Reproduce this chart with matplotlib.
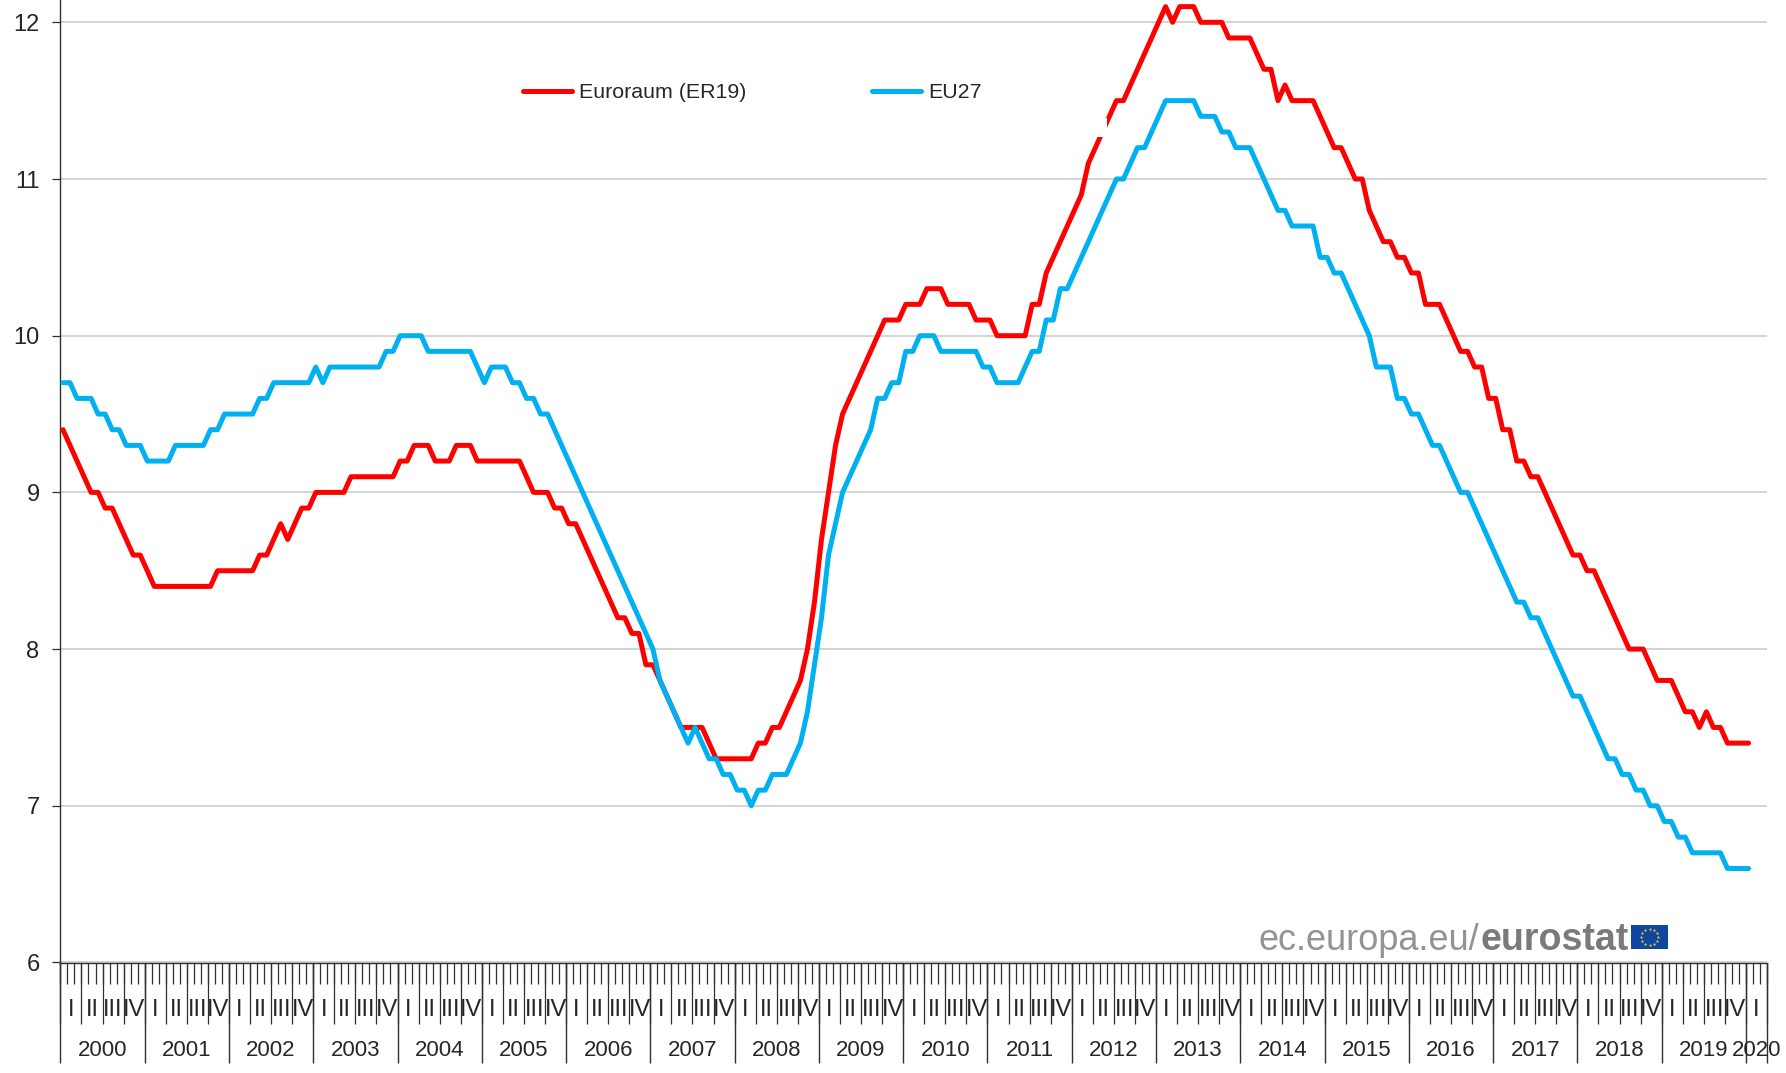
import numpy as np
import matplotlib
matplotlib.use("Agg")
import matplotlib.pyplot as plt
from matplotlib.patches import Rectangle

plt.rcParams["font.family"] = ["Liberation Sans", "DejaVu Sans"]

# monthly values, Jan 2000 - Jan 2020
euro_area = [
    9.4, 9.3, 9.2, 9.1, 9.0, 9.0, 8.9, 8.9, 8.8, 8.7, 8.6, 8.6,
    8.5, 8.4, 8.4, 8.4, 8.4, 8.4, 8.4, 8.4, 8.4, 8.4, 8.5, 8.5,
    8.5, 8.5, 8.5, 8.5, 8.6, 8.6, 8.7, 8.8, 8.7, 8.8, 8.9, 8.9,
    9.0, 9.0, 9.0, 9.0, 9.0, 9.1, 9.1, 9.1, 9.1, 9.1, 9.1, 9.1,
    9.2, 9.2, 9.3, 9.3, 9.3, 9.2, 9.2, 9.2, 9.3, 9.3, 9.3, 9.2,
    9.2, 9.2, 9.2, 9.2, 9.2, 9.2, 9.1, 9.0, 9.0, 9.0, 8.9, 8.9,
    8.8, 8.8, 8.7, 8.6, 8.5, 8.4, 8.3, 8.2, 8.2, 8.1, 8.1, 7.9,
    7.9, 7.8, 7.7, 7.6, 7.5, 7.5, 7.5, 7.5, 7.4, 7.3, 7.3, 7.3,
    7.3, 7.3, 7.3, 7.4, 7.4, 7.5, 7.5, 7.6, 7.7, 7.8, 8.0, 8.3,
    8.7, 9.0, 9.3, 9.5, 9.6, 9.7, 9.8, 9.9, 10.0, 10.1, 10.1, 10.1,
    10.2, 10.2, 10.2, 10.3, 10.3, 10.3, 10.2, 10.2, 10.2, 10.2, 10.1, 10.1,
    10.1, 10.0, 10.0, 10.0, 10.0, 10.0, 10.2, 10.2, 10.4, 10.5, 10.6, 10.7,
    10.8, 10.9, 11.1, 11.2, 11.3, 11.4, 11.5, 11.5, 11.6, 11.7, 11.8, 11.9,
    12.0, 12.1, 12.0, 12.1, 12.1, 12.1, 12.0, 12.0, 12.0, 12.0, 11.9, 11.9,
    11.9, 11.9, 11.8, 11.7, 11.7, 11.5, 11.6, 11.5, 11.5, 11.5, 11.5, 11.4,
    11.3, 11.2, 11.2, 11.1, 11.0, 11.0, 10.8, 10.7, 10.6, 10.6, 10.5, 10.5,
    10.4, 10.4, 10.2, 10.2, 10.2, 10.1, 10.0, 9.9, 9.9, 9.8, 9.8, 9.6,
    9.6, 9.4, 9.4, 9.2, 9.2, 9.1, 9.1, 9.0, 8.9, 8.8, 8.7, 8.6,
    8.6, 8.5, 8.5, 8.4, 8.3, 8.2, 8.1, 8.0, 8.0, 8.0, 7.9, 7.8,
    7.8, 7.8, 7.7, 7.6, 7.6, 7.5, 7.6, 7.5, 7.5, 7.4, 7.4, 7.4,
    7.4,
]
eu27 = [
    9.7, 9.7, 9.6, 9.6, 9.6, 9.5, 9.5, 9.4, 9.4, 9.3, 9.3, 9.3,
    9.2, 9.2, 9.2, 9.2, 9.3, 9.3, 9.3, 9.3, 9.3, 9.4, 9.4, 9.5,
    9.5, 9.5, 9.5, 9.5, 9.6, 9.6, 9.7, 9.7, 9.7, 9.7, 9.7, 9.7,
    9.8, 9.7, 9.8, 9.8, 9.8, 9.8, 9.8, 9.8, 9.8, 9.8, 9.9, 9.9,
    10.0, 10.0, 10.0, 10.0, 9.9, 9.9, 9.9, 9.9, 9.9, 9.9, 9.9, 9.8,
    9.7, 9.8, 9.8, 9.8, 9.7, 9.7, 9.6, 9.6, 9.5, 9.5, 9.4, 9.3,
    9.2, 9.1, 9.0, 8.9, 8.8, 8.7, 8.6, 8.5, 8.4, 8.3, 8.2, 8.1,
    8.0, 7.8, 7.7, 7.6, 7.5, 7.4, 7.5, 7.4, 7.3, 7.3, 7.2, 7.2,
    7.1, 7.1, 7.0, 7.1, 7.1, 7.2, 7.2, 7.2, 7.3, 7.4, 7.6, 7.9,
    8.2, 8.6, 8.8, 9.0, 9.1, 9.2, 9.3, 9.4, 9.6, 9.6, 9.7, 9.7,
    9.9, 9.9, 10.0, 10.0, 10.0, 9.9, 9.9, 9.9, 9.9, 9.9, 9.9, 9.8,
    9.8, 9.7, 9.7, 9.7, 9.7, 9.8, 9.9, 9.9, 10.1, 10.1, 10.3, 10.3,
    10.4, 10.5, 10.6, 10.7, 10.8, 10.9, 11.0, 11.0, 11.1, 11.2, 11.2, 11.3,
    11.4, 11.5, 11.5, 11.5, 11.5, 11.5, 11.4, 11.4, 11.4, 11.3, 11.3, 11.2,
    11.2, 11.2, 11.1, 11.0, 10.9, 10.8, 10.8, 10.7, 10.7, 10.7, 10.7, 10.5,
    10.5, 10.4, 10.4, 10.3, 10.2, 10.1, 10.0, 9.8, 9.8, 9.8, 9.6, 9.6,
    9.5, 9.5, 9.4, 9.3, 9.3, 9.2, 9.1, 9.0, 9.0, 8.9, 8.8, 8.7,
    8.6, 8.5, 8.4, 8.3, 8.3, 8.2, 8.2, 8.1, 8.0, 7.9, 7.8, 7.7,
    7.7, 7.6, 7.5, 7.4, 7.3, 7.3, 7.2, 7.2, 7.1, 7.1, 7.0, 7.0,
    6.9, 6.9, 6.8, 6.8, 6.7, 6.7, 6.7, 6.7, 6.7, 6.6, 6.6, 6.6,
    6.6,
]
years = list(range(2000, 2021))
quarters = ["I", "II", "III", "IV"]
y_ticks = [6, 7, 8, 9, 10, 11, 12]

W, H = 1786, 1073
RED = "#ff0000"
BLUE = "#00b0f0"
AXIS = "#303030"
TEXT = "#262626"
FS = 16

# plot area in pixels
LEFT, RIGHT, BOTTOM = 60.4, 1767.0, 962.5
N_MONTHS = 243
PX_PER_UNIT = 156.7

fig = plt.figure(figsize=(W / 100, H / 100), dpi=100, facecolor="white")
ax = fig.add_axes([LEFT / W, 1 - BOTTOM / H, (RIGHT - LEFT) / W, BOTTOM / H])
ax.set_xlim(0, N_MONTHS)
ax.set_ylim(6, 6 + BOTTOM / PX_PER_UNIT)

months = np.arange(len(euro_area)) + 0.37
ax.plot(months, euro_area, color=RED, lw=3.6, solid_capstyle="round",
        solid_joinstyle="round", label="Euroraum (ER19)", zorder=3)
ax.plot(months, eu27, color=BLUE, lw=3.6, solid_capstyle="round",
        solid_joinstyle="round", label="EU27", zorder=4)

# the red line has a small white nick in the source
fig.add_artist(Rectangle((1095 / W, 1 - 137.3 / H), 12.3 / W, 19 / H,
                         transform=fig.transFigure, color="white", lw=0, zorder=10))

ax.set_yticks(y_ticks)
ax.tick_params(axis="y", length=6, width=0.9, color=AXIS, pad=9,
               labelsize=17, labelcolor=TEXT)
ax.grid(axis="y", color="#c8c8c8", lw=1.1)
ax.set_axisbelow(True)
for side in ["top", "right"]:
    ax.spines[side].set_visible(False)
for side in ["left", "bottom"]:
    ax.spines[side].set_color(AXIS)
    ax.spines[side].set_linewidth(1.0)
ax.set_xticks([])

# three levels of ticks below the axis, lengths in pixels
tr = ax.get_xaxis_transform()
ph = BOTTOM


def down(px):
    return -px / ph


all_months = np.arange(N_MONTHS + 1)
ax.vlines(all_months, 0, down(21), transform=tr, clip_on=False, color=AXIS, lw=0.9)
ax.vlines(all_months[::3], 0, down(61), transform=tr, clip_on=False, color=AXIS, lw=0.9)
year_edges = [12 * i for i in range(len(years))] + [N_MONTHS]
ax.vlines(year_edges, 0, down(100), transform=tr, clip_on=False, color=AXIS, lw=1.0)

for q in range(N_MONTHS // 3):
    ax.text(3 * q + 1.5, down(48), quarters[q % 4], transform=tr, ha="center",
            va="center", fontsize=17, color=TEXT, clip_on=False)
for i, year in enumerate(years):
    ax.text((year_edges[i] + year_edges[i + 1]) / 2, down(88), str(year), transform=tr,
            ha="center", va="center", fontsize=FS, color=TEXT, clip_on=False)

ax.legend(loc="upper left", bbox_to_anchor=(523 / W, 1 - 83 / H),
          bbox_transform=fig.transFigure, ncol=2, frameon=False, fontsize=15.4,
          handlelength=2.3, handletextpad=0.3, columnspacing=5.9,
          borderpad=0, borderaxespad=0, labelcolor=TEXT)

# eurostat logo
fig.text(1258 / W, 1 - 950 / H, "ec.europa.eu/", fontsize=26, color="#939393",
         ha="left", va="baseline")
fig.text(1481 / W, 1 - 950 / H, "eurostat", fontsize=27, fontweight="bold",
         color="#7a7a7a", ha="left", va="baseline")
flag = fig.add_axes([1631 / W, 1 - 949 / H, 37 / W, 24 / H])
flag.set_facecolor("#0f47a0")
flag.set_xlim(-1.55, 1.55)
flag.set_ylim(-1, 1)
flag.set_xticks([])
flag.set_yticks([])
for s in flag.spines.values():
    s.set_visible(False)
angles = np.deg2rad(np.arange(0, 360, 30))
flag.scatter(0.68 * np.cos(angles), 0.68 * np.sin(angles), marker="*", s=7,
             color="#f2d21c", linewidths=0)

fig.savefig("out.png", dpi=100)
